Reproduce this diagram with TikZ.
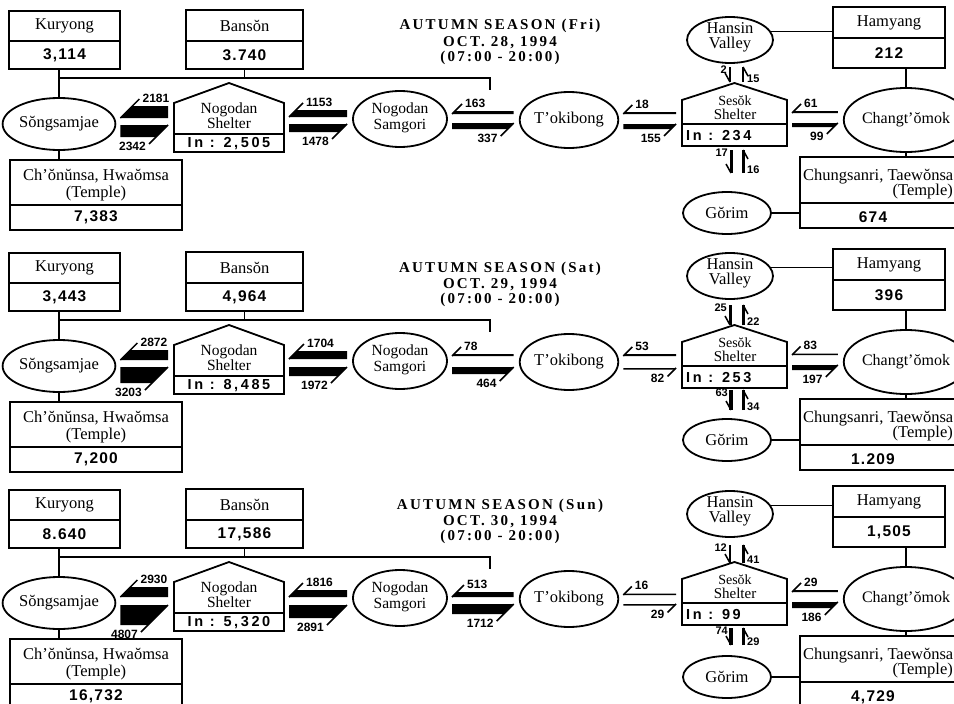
\documentclass[tikz,border=0pt]{standalone}
\usepackage{fontspec}
\setmainfont{Liberation Serif}
\newfontfamily\fVal[LetterSpace=8]{Liberation Sans}
\newfontfamily\fIn[LetterSpace=18]{Liberation Sans}
\newfontfamily\fFlow{Liberation Sans}
\newfontfamily\fTitle[LetterSpace=15]{Liberation Serif}
\usetikzlibrary{shapes.geometric,calc}
\tikzset{
 lw/.style={line width=1.8pt},
 cell/.style={draw, line width=1.8pt, inner sep=0pt, outer sep=0pt},
 ell/.style={draw, ellipse, line width=1.8pt, inner sep=0pt, outer sep=0pt},
 nm/.style={font=\fontsize{16.5}{16}\selectfont},
 nms/.style={font=\fontsize{15.5}{15}\selectfont},
 val/.style={font=\fVal\bfseries\fontsize{15.5}{16}\selectfont},
 inv/.style={font=\fIn\bfseries\fontsize{14.5}{16}\selectfont, inner sep=0pt},
 flow/.style={font=\fFlow\bfseries\fontsize{12}{12}\selectfont, inner sep=0pt},
 vlab/.style={font=\fFlow\bfseries\fontsize{11}{11}\selectfont, inner sep=0pt},
 ttl/.style={font=\fTitle\bfseries\fontsize{15}{16}\selectfont, inner sep=0pt},
 barb/.style={line width=1.5pt},
 conn/.style={line width=1.8pt},
 txt/.style={inner sep=0pt},
}
% left half of a panel: prefix, offset, day, date, Kuryong, Banson, Chonunsa, Nogodan in
\newcommand\panelL[8]{%
\node[cell, nm, minimum width=111, minimum height=30] (#1kurN) at (64.5,{#2+26}) {Kuryong};
\node[cell, val, minimum width=111, minimum height=28] (#1kurV) at (64.5,{#2+55}) {#5};
\node[cell, nm, minimum width=117, minimum height=31] (#1banN) at (244.5,{#2+25.5}) {Bansŏn};
\node[cell, val, minimum width=117, minimum height=28] (#1banV) at (244.5,{#2+55}) {#6};
\node[ell, nm, minimum width=100, minimum height=52] (#1sg) at (59,{#2+124}) {Sŏngsamjae};
\node[cell, minimum width=172, minimum height=45] (#1choN) at (96,{#2+182.5}) {};
\node[txt, nm, anchor=base] at (96,{#2+180}) {Ch’ŏnŭnsa, Hwaŏmsa};
\node[txt, nm, anchor=base] at (96,{#2+197}) {(Temple)};
\node[cell, val, minimum width=172, minimum height=25] (#1choV) at (96,{#2+217.5}) {#7};
\coordinate (#1hl) at (490,{#2+78});
\coordinate (#1jn) at (490,{#2+90});
\draw[conn] (#1sg.north |- #1kurV.south) -- (#1sg.north);
\draw[conn] (#1sg.north |- #1hl) -- (#1hl) -- (#1jn);
\draw[conn] (#1banV.south) -- (#1banV.south |- #1hl);
\draw[conn] (#1sg.south) -- (#1sg.south |- #1choN.north);
\node[minimum width=110, minimum height=49, inner sep=0pt, outer sep=0pt] (#1nog) at (229,{#2+127.5}) {};
\draw[lw] (#1nog.north west) -- ++(55,-20) -- (#1nog.north east) -- (#1nog.south east) -- (#1nog.south west) -- cycle;
\draw[lw] ($(#1nog.north west)+(0,31)$) -- ($(#1nog.north east)+(0,31)$);
\node[txt, nms, anchor=base] at (229,{#2+113}) {Nogodan};
\node[txt, nms, anchor=base] at (229,{#2+128}) {Shelter};
\node[txt, inv, anchor=base] at (229,{#2+147.5}) {In : #8};
\node[ell, minimum width=94, minimum height=56] (#1sam) at (400,{#2+119}) {};
\node[txt, nms, anchor=base] at (400,{#2+113}) {Nogodan};
\node[txt, nms, anchor=base] at (400,{#2+129}) {Samgori};
\node[ell, nm, minimum width=96, minimum height=56] (#1tok) at (569,{#2+120}) {T’okibong};
\node[ttl, anchor=base] at (500,{#2+30}) {AUTUMN SEASON (#3)};
\node[ttl, anchor=base] at (500,{#2+46}) {#4};
\node[ttl, anchor=base] at (500,{#2+61}) {(07:00 - 20:00)};
}
% right half: prefix, offset, Sesok in, Hamyang, Chungsanri, Hansin y, Gorim y
\newcommand\panelR[7]{%
\node[minimum width=105, minimum height=46, inner sep=0pt, outer sep=0pt] (#1ses) at (734.5,{#2+123}) {};
\draw[lw] (#1ses.north west) -- ++(52.5,-17) -- (#1ses.north east) -- (#1ses.south east) -- (#1ses.south west) -- cycle;
\draw[lw] ($(#1ses.north west)+(0,24)$) -- ($(#1ses.north east)+(0,24)$);
\node[txt, font=\fontsize{14}{14}\selectfont, anchor=base] at (735,{#2+105}) {Sesŏk};
\node[txt, font=\fontsize{15}{15}\selectfont, anchor=base] at (735,{#2+119}) {Shelter};
\node[txt, inv, anchor=base west] at (686,{#2+140}) {In : #3};
\node[ell, minimum width=86, minimum height=46] (#1hv) at (730,{#2+#6}) {};
\node[txt, nm, anchor=base] at (730,{#2+#6-7}) {Hansin};
\node[txt, nm, anchor=base] at (730,{#2+#6+8}) {Valley};
\node[cell, nm, minimum width=112, minimum height=31] (#1hamN) at (889,{#2+22.5}) {Hamyang};
\node[cell, val, minimum width=112, minimum height=30] (#1hamV) at (889,{#2+53}) {#4};
\node[ell, font=\fontsize{16}{16}\selectfont, minimum width=96, minimum height=64] (#1ch) at (906,{#2+120}) {Changt’ŏmok};
\node[cell, minimum width=160, minimum height=46] (#1chuN) at (880,{#2+180}) {};
\node[txt, nm, anchor=base west] at (803,{#2+180}) {Chungsanri, Taewŏnsa};
\node[txt, nm, anchor=base east] at (953,{#2+195}) {(Temple)};
\node[cell, minimum width=160, minimum height=25] (#1chuV) at (880,{#2+215.5}) {};
\node[txt, val, anchor=base] at (873,{#2+222}) {#5};
\node[ell, nm, minimum width=88, minimum height=42] (#1gr) at (727,{#2+#7}) {Gŏrim};
\draw[conn] (#1hv.12) -- (#1hv.12 -| #1hamN.west);
\draw[conn] (#1ch.north) -- (#1ch.north |- #1hamV.south);
\draw[conn] (#1ch.south) -- (#1ch.south |- #1chuN.north);
\draw[conn] (#1gr.east) -- (#1gr.east -| #1chuN.west);
}
% pair of flow harpoons: left node, right node, offset, upper bottom y, upper t, upper label, lower top y, lower t, lower label
\newcommand\flows[9]{%
\path (#1.east) ++(5,0) coordinate (fa);
\path (#2.west) ++(-6,0) coordinate (fb);
\coordinate (fyu) at (0,{#3+#4});
\coordinate (fyl) at (0,{#3+#7});
\coordinate (fu1) at (fa |- fyu);
\coordinate (fu2) at (fb |- fyu);
\fill (fu1) -- (fu2) -- ++(0,-#5) -- ($(fu1)+(#5,-#5)$) -- cycle;
\draw[barb] (fu1) -- ++({#5+7},{-#5-7}) coordinate (fbu);
\node[flow, anchor=base west] at ($(fbu)+(3,3)$) {#6};
\coordinate (fl1) at (fa |- fyl);
\coordinate (fl2) at (fb |- fyl);
\fill (fl1) -- (fl2) -- ($(fl2)+(-#8,#8)$) -- ($(fl1)+(0,#8)$) -- cycle;
\draw[barb] (fl2) -- ++({-#8-7},{#8+7}) coordinate (fbl);
\node[flow, anchor=base east] at ($(fbl)+(-3,6)$) {#9};
}
% vertical pair: offset, x down, y top, y bottom, t down, label down, x up, t up, label up
\newcommand\vpair[9]{%
\draw[line width=#5pt] (#2,{#1+#3}) -- (#2,{#1+#4}) coordinate (vd);
\draw[barb] (vd) -- ++(-5,-9);
\node[vlab, anchor=north east] at ({#2-3},{#1+#3-1}) {#6};
\draw[line width=#8pt] (#7,{#1+#4}) -- (#7,{#1+#3}) coordinate (vu);
\draw[barb] (vu) -- ++(5,9);
\node[vlab, anchor=south west] at ({#7+4},{#1+#4+1}) {#9};
}
\begin{document}
\begin{tikzpicture}[x=1pt, y=-1pt]
\useasboundingbox (0,0) rectangle (954,704);
\fill[white] (0,0) rectangle (954,704);
\clip (0,0) rectangle (954,704);
% ---------- Friday ----------
\panelL{a}{0}{Fri}{OCT. 28, 1994}{3,114}{3.740}{7,383}{2,505}
\panelR{a}{0}{234}{212}{674}{40}{213}
\flows{asg}{anog}{0}{118}{12}{2181}{125}{12}{2342}
\flows{anog}{asam}{0}{117}{7}{1153}{124}{8}{1478}
\flows{asam}{atok}{0}{114}{3}{163}{123}{6}{337}
\flows{atok}{ases}{0}{114}{2}{18}{124}{5}{155}
\flows{ases}{ach}{0}{113}{2}{61}{123}{4}{99}
\vpair{0}{730}{67}{82}{1.5}{2}{743}{2.5}{15}
\vpair{0}{731}{150}{173}{3}{17}{743}{3}{16}
% ---------- Saturday ----------
\panelL{b}{242}{Sat}{OCT. 29, 1994}{3,443}{4,964}{7,200}{8,485}
\panelR{b}{242}{253}{396}{1.209}{34}{198}
\flows{bsg}{bnog}{242}{118}{10}{2872}{125}{16}{3203}
\flows{bnog}{bsam}{242}{117}{8}{1704}{125}{9}{1972}
\flows{bsam}{btok}{242}{114}{2}{78}{125}{7}{464}
\flows{btok}{bses}{242}{114}{2}{53}{126}{1.5}{82}
\flows{bses}{bch}{242}{113}{1.5}{83}{123}{5}{197}
\vpair{242}{730}{63}{83}{3}{25}{743}{3}{22}
\vpair{242}{731}{148}{168}{4}{63}{743}{3}{34}
% ---------- Sunday ----------
\panelL{c}{479}{Sun}{OCT. 30, 1994}{8.640}{17,586}{16,732}{5,320}
\panelR{c}{479}{99}{1,505}{4,729}{35}{198}
\flows{csg}{cnog}{479}{118}{10}{2930}{126}{20}{4807}
\flows{cnog}{csam}{479}{118}{7}{1816}{126}{13}{2891}
\flows{csam}{ctok}{479}{118}{5}{513}{125}{10}{1712}
\flows{ctok}{cses}{479}{116}{1.5}{16}{125}{1.5}{29}
\flows{cses}{cch}{479}{113}{2}{29}{123}{6}{186}
\vpair{479}{730}{66}{84}{2}{12}{743}{3}{41}
\vpair{479}{731}{149}{166}{4}{74}{743}{3}{29}
\end{tikzpicture}
\end{document}
